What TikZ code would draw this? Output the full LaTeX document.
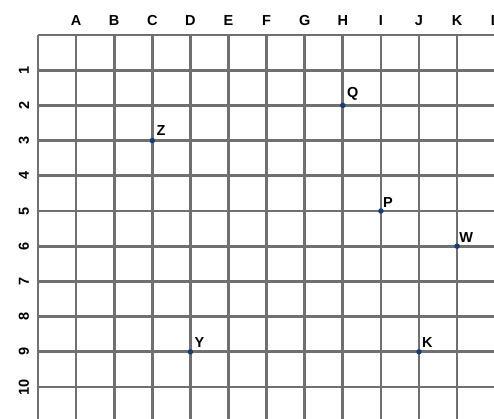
\documentclass[tikz,border=0pt]{standalone}
\usepackage{fontspec}
\setmainfont{Liberation Sans}
\definecolor{gridgray}{RGB}{112,112,112}
\definecolor{dotblue}{RGB}{25,60,120}
\begin{document}
\begin{tikzpicture}[x=1pt,y=-1pt,
  gridline/.style={draw=gridgray,line width=2.7pt},
  collabel/.style={font=\fontsize{14.5}{16}\selectfont\bfseries,inner sep=0pt},
  rowlabel/.style={font=\fontsize{14.5}{16}\selectfont\bfseries,inner sep=0pt,rotate=90},
  ptdot/.style={circle,fill=dotblue,inner sep=0pt,minimum size=5.5pt},
  ptlabel/.style={font=\fontsize{14.5}{16}\selectfont\bfseries,inner sep=0pt,anchor=south west}]
\useasboundingbox (0,0) rectangle (494,418);
\fill[white] (0,0) rectangle (494,418);
% vertical lines
\foreach \k in {0,...,12} {
  \draw[gridline] ({38+\k*38.1},35) -- ({38+\k*38.1},420);
}
% horizontal lines
\foreach \j in {0,...,11} {
  \draw[gridline] (38,{35+\j*35.2}) -- (496,{35+\j*35.2});
}
% column labels
\foreach \L [count=\k] in {A,B,C,D,E,F,G,H,I,J,K,L} {
  \node[collabel] (col\L) at ({38+\k*38.1},21) {\L};
}
% row labels
\foreach \r in {1,...,10} {
  \node[rowlabel] (row\r) at (24,{35+\r*35.2}) {\r};
}
% points
\node[ptdot] (Q) at ({38+8*38.1},{35+2*35.2}) {};
\node[ptdot] (Z) at ({38+3*38.1},{35+3*35.2}) {};
\node[ptdot] (P) at ({38+9*38.1},{35+5*35.2}) {};
\node[ptdot] (W) at ({38+11*38.1},{35+6*35.2}) {};
\node[ptdot] (Y) at ({38+4*38.1},{35+9*35.2}) {};
\node[ptdot] (K) at ({38+10*38.1},{35+9*35.2}) {};
\node[ptlabel] (Qlab) at ([xshift=4pt,yshift=4.5pt]Q.center) {Q};
\node[ptlabel] (Zlab) at ([xshift=4pt,yshift=5pt]Z.center) {Z};
\node[ptlabel] (Plab) at ([xshift=2pt,yshift=3.5pt]P.center) {P};
\node[ptlabel] (Wlab) at ([xshift=2pt,yshift=4pt]W.center) {W};
\node[ptlabel] (Ylab) at ([xshift=4pt,yshift=4.5pt]Y.center) {Y};
\node[ptlabel] (Klab) at ([xshift=3pt,yshift=4pt]K.center) {K};
\end{tikzpicture}
\end{document}
